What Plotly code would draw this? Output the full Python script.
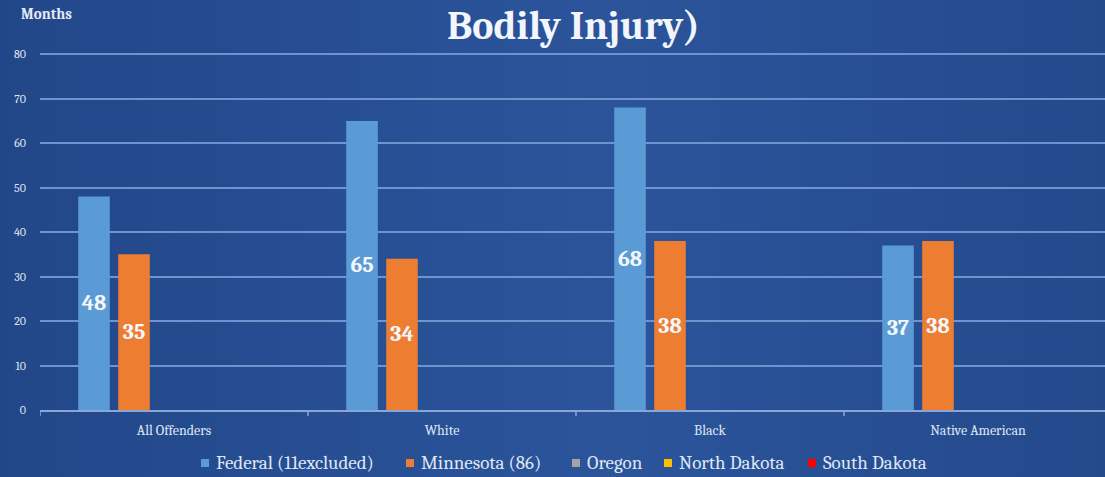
import plotly.graph_objects as go

categories = ["All Offenders", "White", "Black", "Native American"]
federal = [48, 65, 68, 37]
minnesota = [35, 34, 38, 38]
oregon = [None, None, None, None]
north_dakota = [None, None, None, None]
south_dakota = [None, None, None, None]
y_ticks = [0, 10, 20, 30, 40, 50, 60, 70, 80]

series_names = ["Federal (11excluded)", "Minnesota (86)", "Oregon", "North Dakota", "South Dakota"]
series_values = [federal, minnesota, oregon, north_dakota, south_dakota]
series_colors = ["#5b9bd5", "#ed7d31", "#a5a5a5", "#ffc000", "#ff0000"]
series_labelled = [True, True, False, False, False]

SERIF = "Cambria, Caladea, 'Liberation Serif', serif"
W, H = 1105, 477
ML, MR, MT, MB = 40, 0, 52, 67
PW, PH = W - ML - MR, H - MT - MB


def px_x(px):
    return (px - ML) / PW


def px_y(py):
    return (H - MB - py) / PH


fig = go.Figure()
for name, vals, color, lab in zip(series_names, series_values, series_colors, series_labelled):
    fig.add_trace(go.Bar(
        x=categories, y=vals, name=name,
        marker=dict(color=color, line=dict(width=0)),
        text=[str(v) if v is not None else "" for v in vals] if lab else None,
        textposition="inside", insidetextanchor="middle",
        textangle=0,
        textfont=dict(family=SERIF, size=22, color="#f4f7fc", weight="bold"),
        showlegend=False,
    ))

grad_svg = (
    "data:image/svg+xml;utf8,"
    "<svg xmlns='http://www.w3.org/2000/svg' width='1105' height='477'>"
    "<defs><linearGradient id='g' x1='0' y1='0' x2='1' y2='0'>"
    "<stop offset='0' stop-color='%23224789'/>"
    "<stop offset='0.55' stop-color='%232b549b'/>"
    "<stop offset='1' stop-color='%23244a8c'/>"
    "</linearGradient></defs>"
    "<rect width='1105' height='477' fill='url(%23g)'/></svg>"
)

annotations = [
    dict(text="<b>Bodily Injury)</b>", xref="paper", yref="paper",
         x=px_x(573), y=px_y(1), xanchor="center", yanchor="top",
         showarrow=False, font=dict(family=SERIF, size=40, color="#f2f5fa")),
    dict(text="<b>Months</b>", xref="paper", yref="paper",
         x=px_x(19), y=px_y(14), xanchor="left", yanchor="middle",
         showarrow=False, font=dict(family=SERIF, size=15, color="#e3e9f4")),
]
shapes = []

# manual legend (Excel-style: small square, text close to it)
legend_marker_px = [205, 410, 576, 668, 812]
legend_y = 463
for name, color, mx in zip(series_names, series_colors, legend_marker_px):
    shapes.append(dict(type="rect", xref="paper", yref="paper",
                       x0=px_x(mx - 4), x1=px_x(mx + 4), y0=px_y(legend_y + 4), y1=px_y(legend_y - 4),
                       fillcolor=color, line=dict(width=0), layer="above"))
    annotations.append(dict(text=name, xref="paper", yref="paper",
                            x=px_x(mx + 9), y=px_y(legend_y), xanchor="left", yanchor="middle",
                            showarrow=False,
                            font=dict(family=SERIF, size=19, color="#dfe6f2")))

# category boundary tick marks on the x axis
for b in [-0.5, 0.5, 1.5, 2.5]:
    shapes.append(dict(type="line", xref="x", yref="paper", x0=b, x1=b, y0=0, y1=-6 / PH,
                       line=dict(color="#8aa6d6", width=1.5)))

fig.update_layout(
    width=W, height=H,
    margin=dict(l=ML, r=MR, t=MT, b=MB),
    paper_bgcolor="#28509a",
    plot_bgcolor="rgba(0,0,0,0)",
    barmode="group",
    bargap=0.254,
    bargroupgap=0.21,
    showlegend=False,
    images=[dict(source=grad_svg, xref="paper", yref="paper", x=px_x(0), y=px_y(0),
                 sizex=W / PW, sizey=H / PH, xanchor="left", yanchor="top",
                 sizing="stretch", layer="below")],
    annotations=annotations,
    shapes=shapes,
)

fig.update_xaxes(
    range=[-0.5, 3.474],
    showgrid=False,
    showline=True, linecolor="#8aa6d6", linewidth=1.5,
    ticks="", tickfont=dict(family=SERIF, size=14, color="#dfe6f2"),
    ticklabelstandoff=6,
    zeroline=False, fixedrange=True,
)
fig.update_yaxes(
    range=[0, 80.5],
    tickvals=y_ticks,
    showgrid=True, gridcolor="#6f93cf", gridwidth=1.5,
    zeroline=False, showline=False,
    tickfont=dict(family=SERIF, size=12, color="#dfe6f2"),
    ticklabelstandoff=13,
    fixedrange=True,
)

fig.write_html("out.html", config={"displayModeBar": False},
               post_script="document.body.style.margin='0';")
